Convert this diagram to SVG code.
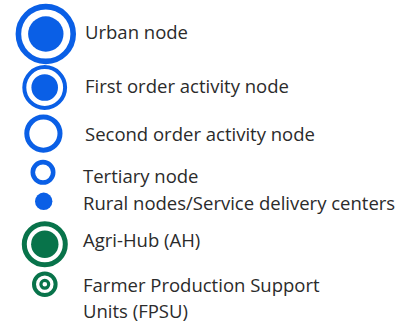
<svg xmlns="http://www.w3.org/2000/svg" width="406" height="325" viewBox="0 0 406 325">
<style>
.b{fill:none;stroke:#0a5fe6}
.bf{fill:#0a5fe6}
.g{fill:none;stroke:#08734a}
.gf{fill:#08734a}
text{font-family:"Open Sans","Noto Sans",sans-serif;font-size:18.5px;fill:#2b2b2b}
</style>
<rect width="406" height="325" fill="#ffffff"/>
<g id="urban">
<circle class="b" cx="45.8" cy="34" r="27.4" stroke-width="5.6"/>
<circle class="bf" cx="45.8" cy="34" r="17.7"/>
<text x="85" y="39">Urban node</text>
</g>
<g id="first-order">
<circle class="b" cx="44.7" cy="87.5" r="20.4" stroke-width="4"/>
<circle class="bf" cx="44.7" cy="87.5" r="13.3"/>
<text x="85" y="92.7">First order activity node</text>
</g>
<g id="second-order">
<circle class="b" cx="43.4" cy="133.6" r="16.6" stroke-width="5"/>
<text x="85" y="141.2">Second order activity node</text>
</g>
<g id="tertiary">
<circle class="b" cx="43" cy="172.3" r="10.2" stroke-width="4.6"/>
<text x="83" y="182.5">Tertiary node</text>
</g>
<g id="rural">
<circle class="bf" cx="43.7" cy="201.3" r="8.7"/>
<text x="83" y="210">Rural nodes/Service delivery centers</text>
</g>
<g id="agri-hub">
<circle class="g" cx="44.8" cy="244.3" r="20.5" stroke-width="5"/>
<circle class="gf" cx="44.8" cy="244.3" r="13.7"/>
<text x="83" y="246.5">Agri-Hub (AH)</text>
</g>
<g id="fpsu">
<circle class="g" cx="44.8" cy="284.3" r="10.8" stroke-width="4"/>
<circle class="g" cx="44.8" cy="284.3" r="3.9" stroke-width="3.2"/>
<text x="83" y="292">Farmer Production Support</text>
<text x="83" y="317.5">Units (FPSU)</text>
</g>
<g id="connectors"/>
</svg>
